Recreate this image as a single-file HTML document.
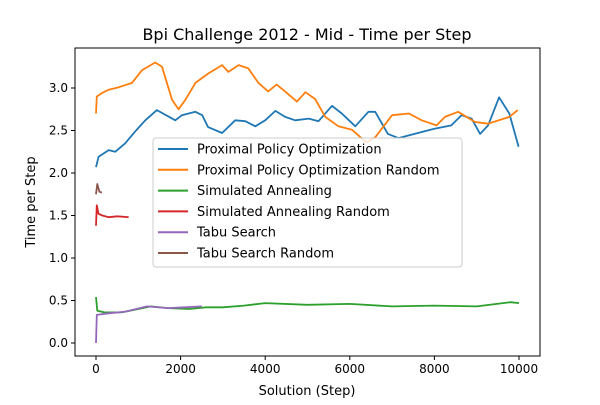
<!DOCTYPE html>
<html><head><meta charset="utf-8"><style>
body{margin:0;background:#fff;font-family:"Liberation Sans","DejaVu Sans",sans-serif}
</style></head><body>
<svg id="chart" width="600" height="400" xmlns="http://www.w3.org/2000/svg" font-family="DejaVu Sans, Liberation Sans, sans-serif">
<rect width="600" height="400" fill="#fff"/>
<text x="307" y="40" font-size="16" text-anchor="middle">Bpi Challenge 2012 - Mid - Time per Step</text>
<text x="307" y="395" font-size="13" text-anchor="middle">Solution (Step)</text>
<text transform="translate(35,202) rotate(-90)" font-size="13" text-anchor="middle">Time per Step</text>
<g id="plot"></g>
</svg>
<script>
const xTicks=[0,2000,4000,6000,8000,10000];
const yTicks=[0.0,0.5,1.0,1.5,2.0,2.5,3.0];
const seriesNames=["Proximal Policy Optimization","Proximal Policy Optimization Random","Simulated Annealing","Simulated Annealing Random","Tabu Search","Tabu Search Random"];
const seriesColors=["#1f77b4","#ff7f0e","#2ca02c","#d62728","#9467bd","#8c564b"];
const ppoSteps=[0,61,300,455,690,930,1165,1440,1875,2030,2350,2510,2650,2980,3290,3530,3765,4000,4240,4470,4710,5030,5260,5580,5810,6130,6440,6600,6900,7150,7530,8000,8400,8640,8880,9080,9270,9530,9770,9990];
const ppoVals=[2.07,2.19,2.27,2.25,2.35,2.49,2.62,2.74,2.62,2.68,2.72,2.68,2.54,2.47,2.62,2.61,2.55,2.62,2.73,2.66,2.62,2.64,2.61,2.79,2.70,2.55,2.72,2.72,2.46,2.41,2.46,2.52,2.56,2.68,2.64,2.46,2.56,2.89,2.70,2.31];
const ppoRSteps=[0,20,140,300,540,850,1090,1400,1560,1800,1950,2110,2350,2650,2980,3130,3370,3600,3840,4070,4270,4470,4750,4950,5180,5420,5730,6050,6390,6600,7000,7400,7700,8050,8250,8560,8960,9270,9770,9970];
const ppoRVals=[2.70,2.90,2.94,2.98,3.01,3.06,3.21,3.30,3.25,2.86,2.75,2.86,3.06,3.17,3.27,3.19,3.27,3.23,3.06,2.96,3.04,2.96,2.84,2.95,2.87,2.66,2.55,2.51,2.36,2.42,2.68,2.70,2.62,2.56,2.66,2.72,2.60,2.58,2.66,2.74];
const saSteps=[0,30,200,600,1000,1300,1700,2200,2600,3000,3500,4000,5000,6000,7000,8000,9000,9800,10000];
const saVals=[0.54,0.38,0.36,0.36,0.40,0.43,0.41,0.40,0.42,0.42,0.44,0.47,0.45,0.46,0.43,0.44,0.43,0.48,0.47];
const saRSteps=[0,20,60,150,300,500,770];
const saRVals=[1.38,1.62,1.52,1.50,1.48,1.49,1.48];
const tabuSteps=[0,20,300,700,1200,1700,2100,2500];
const tabuVals=[0.0,0.33,0.35,0.37,0.43,0.41,0.42,0.43];
const tabuRSteps=[0,30,80,140];
const tabuRVals=[1.75,1.87,1.78,1.77];

const L=75,R=540,T=48,B=356;
const xs=v=>96+v*(519-96)/10000;
const ys=v=>343-v*85;
const NS="http://www.w3.org/2000/svg";
const g=document.getElementById('plot');
function mk(tag,attrs){const e=document.createElementNS(NS,tag);for(const k in attrs)e.setAttribute(k,attrs[k]);g.appendChild(e);return e;}
const all=[[ppoSteps,ppoVals],[ppoRSteps,ppoRVals],[saSteps,saVals],[saRSteps,saRVals],[tabuSteps,tabuVals],[tabuRSteps,tabuRVals]];
const slugs=["ppo","ppo-random","simulated-annealing","simulated-annealing-random","tabu-search","tabu-search-random"];
all.forEach((s,i)=>{
  const d=s[0].map((x,j)=>(j?'L':'M')+xs(x).toFixed(1)+','+ys(s[1][j]).toFixed(1)).join('');
  const p=mk('path',{d:d,fill:'none',stroke:seriesColors[i],'stroke-width':1.8,'stroke-linejoin':'round'});
  
  
});
const box=mk('rect',{x:L,y:T,width:R-L,height:B-T,fill:'none',stroke:'#000','stroke-width':1});


xTicks.forEach(t=>{
  mk('line',{x1:xs(t),x2:xs(t),y1:B,y2:B+4,stroke:'#000'});
  const tx=mk('text',{x:xs(t),y:B+17,'font-size':12,'text-anchor':'middle'});
  tx.textContent=String(t);
  
  
});
yTicks.forEach(t=>{
  mk('line',{x1:L-4,x2:L,y1:ys(t),y2:ys(t),stroke:'#000'});
  const tx=mk('text',{x:L-7,y:ys(t)+4,'font-size':12,'text-anchor':'end'});
  tx.textContent=t.toFixed(1);
  
  
});
const lg=mk('rect',{x:153,y:138,width:309,height:129,rx:3,fill:'#fff','fill-opacity':0.8,stroke:'#ccc'});


seriesNames.forEach((n,i)=>{
  const y=149+i*20.8;
  mk('line',{x1:158,x2:188,y1:y,y2:y,stroke:seriesColors[i],'stroke-width':2});
  const tx=mk('text',{x:197,y:y+4.5,'font-size':13});
  tx.textContent=n;
  
  
});
</script>
</body></html>
